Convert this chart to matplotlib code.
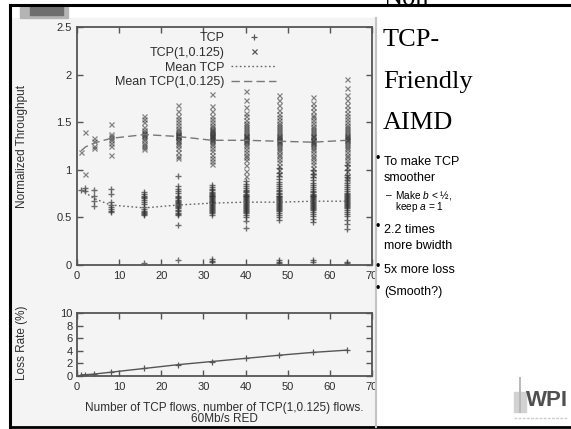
import matplotlib
matplotlib.use("Agg")
import matplotlib.pyplot as plt
from matplotlib.lines import Line2D
from matplotlib.patches import Rectangle

plt.rcParams['font.family'] = ['Liberation Sans', 'DejaVu Sans']
plt.rcParams['mathtext.fontset'] = 'custom'
plt.rcParams['mathtext.it'] = 'Liberation Sans:italic'
plt.rcParams['mathtext.rm'] = 'Liberation Sans'

# ---------------- data ----------------
flows = [1, 2, 4, 8, 16, 24, 32, 40, 48, 56, 64]

tcp_thr = [
    [0.79],
    [0.81, 0.78],
    [0.79, 0.72, 0.67, 0.62],
    [0.80, 0.75, 0.66, 0.63, 0.61, 0.59, 0.57, 0.56],
    [0.77, 0.75, 0.73, 0.71, 0.70, 0.68, 0.66, 0.64, 0.61, 0.59, 0.57, 0.56, 0.55, 0.54, 0.53, 0.02],
    [0.93, 0.83, 0.80, 0.78, 0.76, 0.73, 0.71, 0.70, 0.68, 0.67, 0.66, 0.65, 0.64, 0.63, 0.62, 0.61,
     0.60, 0.58, 0.57, 0.55, 0.54, 0.52, 0.42, 0.05],
    [0.84, 0.82, 0.80, 0.79, 0.77, 0.76, 0.75, 0.74, 0.73, 0.72, 0.71, 0.70, 0.69, 0.68, 0.67, 0.66,
     0.66, 0.65, 0.64, 0.63, 0.62, 0.61, 0.60, 0.59, 0.58, 0.57, 0.56, 0.55, 0.53, 0.06, 0.04, 0.03],
    [0.88, 0.85, 0.83, 0.81, 0.79, 0.78, 0.77, 0.75, 0.74, 0.73, 0.72, 0.71, 0.70, 0.69, 0.68, 0.67,
     0.66, 0.65, 0.64, 0.63, 0.62, 0.61, 0.60, 0.59, 0.58, 0.57, 0.56, 0.55, 0.53, 0.50, 0.46, 0.39],
    [1.02, 0.97, 0.93, 0.90, 0.87, 0.85, 0.83, 0.81, 0.79, 0.78, 0.76, 0.75, 0.73, 0.72, 0.71, 0.70,
     0.69, 0.68, 0.67, 0.66, 0.65, 0.64, 0.63, 0.62, 0.61, 0.60, 0.59, 0.58, 0.57, 0.55, 0.53, 0.50,
     0.47, 0.05, 0.03, 0.02],
    [1.00, 0.96, 0.92, 0.89, 0.86, 0.84, 0.82, 0.80, 0.78, 0.77, 0.75, 0.74, 0.73, 0.72, 0.71, 0.70,
     0.69, 0.68, 0.67, 0.66, 0.65, 0.64, 0.63, 0.62, 0.61, 0.60, 0.59, 0.58, 0.56, 0.54, 0.51, 0.48,
     0.45, 0.05, 0.03],
    [1.05, 1.00, 0.95, 0.92, 0.89, 0.86, 0.84, 0.82, 0.80, 0.78, 0.76, 0.75, 0.74, 0.72, 0.71, 0.70,
     0.69, 0.68, 0.67, 0.66, 0.65, 0.64, 0.63, 0.62, 0.61, 0.60, 0.58, 0.56, 0.54, 0.51, 0.47, 0.43,
     0.38, 0.03, 0.02],
]

aimd_thr = [
    [1.19],
    [1.40, 0.96],
    [1.33, 1.30, 1.25, 1.23],
    [1.48, 1.38, 1.35, 1.33, 1.31, 1.28, 1.25, 1.16],
    [1.56, 1.53, 1.50, 1.45, 1.42, 1.40, 1.39, 1.38, 1.37, 1.35, 1.33, 1.31, 1.28, 1.26, 1.24, 1.22],
    [1.68, 1.62, 1.57, 1.53, 1.50, 1.47, 1.44, 1.42, 1.40, 1.38, 1.37, 1.36, 1.35, 1.34, 1.33, 1.31,
     1.30, 1.28, 1.26, 1.23, 1.19, 1.15, 1.12, 1.38],
    [1.80, 1.67, 1.62, 1.57, 1.53, 1.50, 1.47, 1.45, 1.43, 1.42, 1.41, 1.40, 1.39, 1.38, 1.37, 1.36,
     1.35, 1.34, 1.33, 1.32, 1.31, 1.30, 1.28, 1.26, 1.23, 1.20, 1.16, 1.12, 1.09, 1.06],
    [1.83, 1.73, 1.66, 1.60, 1.56, 1.52, 1.49, 1.47, 1.45, 1.43, 1.41, 1.39, 1.37, 1.36, 1.35, 1.34,
     1.33, 1.32, 1.31, 1.30, 1.29, 1.27, 1.25, 1.22, 1.19, 1.16, 1.13, 1.10, 1.05, 0.99, 0.93],
    [1.79, 1.73, 1.68, 1.63, 1.59, 1.55, 1.52, 1.49, 1.47, 1.45, 1.43, 1.41, 1.39, 1.37, 1.35, 1.34,
     1.33, 1.32, 1.31, 1.30, 1.29, 1.28, 1.26, 1.24, 1.22, 1.20, 1.17, 1.14, 1.11, 1.08, 1.04, 1.00, 0.96],
    [1.76, 1.70, 1.66, 1.62, 1.58, 1.55, 1.52, 1.49, 1.46, 1.44, 1.42, 1.40, 1.38, 1.36, 1.35, 1.34,
     1.32, 1.31, 1.30, 1.29, 1.28, 1.27, 1.25, 1.23, 1.21, 1.18, 1.15, 1.12, 1.09, 1.06, 1.02, 0.98, 0.95],
    [1.95, 1.86, 1.79, 1.73, 1.68, 1.64, 1.60, 1.56, 1.53, 1.50, 1.47, 1.45, 1.43, 1.41, 1.39, 1.37,
     1.35, 1.34, 1.33, 1.32, 1.31, 1.30, 1.28, 1.26, 1.24, 1.22, 1.19, 1.16, 1.13, 1.10, 1.07, 1.03,
     0.99, 0.94, 0.90],
]

mean_tcp = [0.79, 0.76, 0.70, 0.63, 0.60, 0.63, 0.65, 0.66, 0.66, 0.67, 0.67]
mean_aimd = [1.20, 1.24, 1.28, 1.33, 1.37, 1.35, 1.31, 1.31, 1.30, 1.29, 1.31]

loss_rate = [0.2, 0.2, 0.3, 0.6, 1.2, 1.8, 2.3, 2.8, 3.3, 3.75, 4.1]

x_ticks = [0, 10, 20, 30, 40, 50, 60, 70]
thr_ticks = [0, 0.5, 1, 1.5, 2, 2.5]
thr_ticklabels = ['0', '0.5', '1', '1.5', '2', '2.5']
loss_ticks = [0, 2, 4, 6, 8, 10]

legend_labels = ['TCP', 'TCP(1,0.125)', 'Mean TCP', 'Mean TCP(1,0.125)']

title_lines = ['Non-', 'TCP-', 'Friendly', 'AIMD']

# ---------------- figure ----------------
W, H = 571, 429
fig = plt.figure(figsize=(W / 100, H / 100), dpi=100)
fig.patch.set_facecolor('white')


def fx(x):
    return x / W


def fy(y):
    return 1 - y / H


# chart image background
fig.add_artist(Rectangle((fx(12), fy(427)), fx(376) - fx(12), fy(18) - fy(427),
                         transform=fig.transFigure, color='#f4f4f4', zorder=0))
# top-left gray square
fig.add_artist(Rectangle((fx(20), fy(18)), fx(48), fy(5) - fy(18),
                         transform=fig.transFigure, color='#b4b4b4', zorder=1))
fig.add_artist(Rectangle((fx(30), fy(15)), fx(33), fy(5) - fy(15),
                         transform=fig.transFigure, color='#6e6e6e', zorder=1))

GRAY = '#555555'
TXT = '#2e2e2e'


def style_axes(ax):
    ax.set_facecolor('none')
    for s in ax.spines.values():
        s.set_color(GRAY)
        s.set_linewidth(1.3)
    ax.tick_params(direction='in', top=True, right=True, length=4, width=1,
                   color=GRAY, labelcolor=TXT, labelsize=8, pad=4)


# upper axes
ax1 = fig.add_axes([fx(77), fy(265), fx(372) - fx(77), fy(27) - fy(265)])
style_axes(ax1)
for f, vals in zip(flows, tcp_thr):
    ax1.plot([f] * len(vals), vals, linestyle='none', marker='+', markersize=4.5,
             markeredgewidth=1.0, color='#333333', alpha=0.7)
for f, vals in zip(flows, aimd_thr):
    ax1.plot([f] * len(vals), vals, linestyle='none', marker='x', markersize=3.6,
             markeredgewidth=0.9, color='#3a3a3a', alpha=0.62)
ax1.plot(flows, mean_tcp, linestyle=(0, (1.2, 1.8)), color='#666666', lw=1.0)
ax1.plot(flows, mean_aimd, linestyle=(0, (6, 3)), color='#777777', lw=1.0)
ax1.set_xlim(0, 70)
ax1.set_ylim(0, 2.5)
ax1.set_xticks(x_ticks)
ax1.set_yticks(thr_ticks)
ax1.set_yticklabels(thr_ticklabels)

handles = [
    Line2D([], [], linestyle='none', marker='+', markersize=4.5, markeredgewidth=0.9, color='#555555'),
    Line2D([], [], linestyle='none', marker='x', markersize=3.6, markeredgewidth=0.9, color='#555555'),
    Line2D([], [], linestyle=(0, (1.2, 1.8)), color='#666666', lw=1.0),
    Line2D([], [], linestyle=(0, (6, 3)), color='#777777', lw=1.0),
]
leg = ax1.legend(handles, legend_labels, loc='upper right', bbox_to_anchor=(0.70, 1.01),
                 frameon=False, markerfirst=False, fontsize=9, handlelength=3.6,
                 handletextpad=0.5, labelspacing=0.22, borderaxespad=0.2)
for t in leg.get_texts():
    t.set_color(TXT)

# lower axes
ax2 = fig.add_axes([fx(77), fy(376), fx(372) - fx(77), fy(313) - fy(376)])
style_axes(ax2)
ax2.plot(flows, loss_rate, color='#555555', lw=1.0, marker='+', markersize=4,
         markeredgewidth=0.9)
ax2.set_xlim(0, 70)
ax2.set_ylim(0, 10)
ax2.set_xticks(x_ticks)
ax2.set_yticks(loss_ticks)
ax2.tick_params(axis='y', labelsize=8, pad=3)
for lab in ax2.get_yticklabels():
    lab.set_linespacing(0.8)

# axis labels
fig.text(fx(22), fy(147), 'Normalized Throughput', rotation=90, ha='center', va='center',
         fontsize=8.5, color=TXT)
fig.text(fx(22), fy(343), 'Loss Rate (%)', rotation=90, ha='center', va='center',
         fontsize=8.5, color=TXT)
fig.text(fx(224), fy(408), 'Number of TCP flows, number of TCP(1,0.125) flows.', ha='center',
         va='center', fontsize=8.5, color=TXT)
fig.text(fx(224), fy(419), '60Mb/s RED', ha='center', va='center', fontsize=8.5, color=TXT)

# frame lines
fig.add_artist(Line2D([fx(10), 1], [fy(5), fy(5)], transform=fig.transFigure, color='black', lw=2.2))
fig.add_artist(Line2D([fx(10), fx(10)], [fy(5), fy(427)], transform=fig.transFigure, color='black', lw=2.2))
fig.add_artist(Line2D([fx(10), 1], [fy(427), fy(427)], transform=fig.transFigure, color='black', lw=2.0))
fig.add_artist(Line2D([fx(376), fx(376)], [fy(18), fy(427)], transform=fig.transFigure,
                      color='#c4c4c4', lw=1.5))

# slide title
title_baselines = [5, 46, 88, 129]
for txt, yb in zip(title_lines, title_baselines):
    fig.text(fx(383), fy(yb), txt, ha='left', va='baseline', fontsize=19,
             family='Liberation Serif', color='black')

# bullets
bullets = [
    ('•', 'To make TCP', 162, 9),
    (None, 'smoother', 178, 9),
    ('–', 'Make $b$ < ½,', 195, 7.3),
    (None, 'keep $a$ = 1', 207, 7.3),
    ('•', '2.2 times', 230, 9),
    (None, 'more bwidth', 246, 9),
    ('•', '5x more loss', 270, 9),
    ('•', '(Smooth?)', 292, 9),
]
for sym, txt, yc, fs in bullets:
    if fs < 8:
        x_sym, x_txt = 386, 395
    else:
        x_sym, x_txt = 376, 384
    if sym == '•':
        fig.text(fx(x_sym), fy(yc - 3), sym, ha='left', va='center', fontsize=9, color='black')
    elif sym == '–':
        fig.text(fx(x_sym), fy(yc), sym, ha='left', va='center', fontsize=fs, color='black')
    fig.text(fx(x_txt), fy(yc), txt, ha='left', va='center', fontsize=fs, color='black')

# WPI logo approximation
fig.add_artist(Rectangle((fx(514), fy(412)), fx(12), fy(392) - fy(412), transform=fig.transFigure,
                         color='#d2d2d2', zorder=1))
fig.add_artist(Line2D([fx(520), fx(520)], [fy(378), fy(412)], transform=fig.transFigure,
                      color='#b8b8b8', lw=1.4))
fig.text(fx(526), fy(401), 'WPI', ha='left', va='center', fontsize=16, fontweight='bold',
         color='#505050')
fig.add_artist(Line2D([fx(514), fx(567)], [fy(418), fy(418)], transform=fig.transFigure,
                      color='#cccccc', lw=1.0, linestyle=(0, (2, 1))))

fig.savefig('out.png', dpi=100)
